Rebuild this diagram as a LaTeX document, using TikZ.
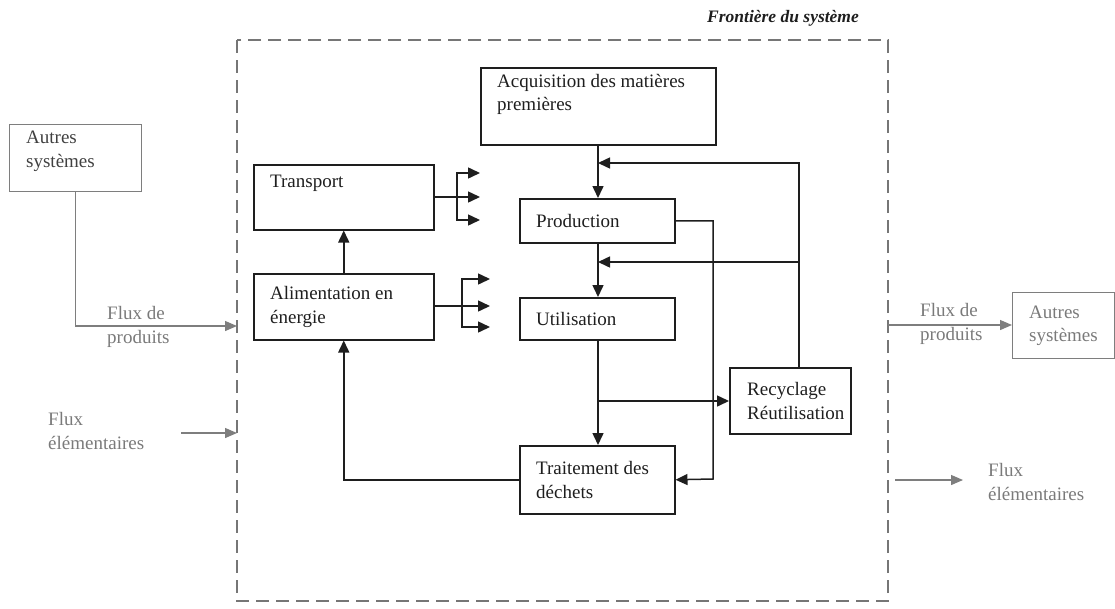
\documentclass[tikz,border=0pt]{standalone}
\usepackage{fontspec}
\setmainfont{Liberation Serif}
\usetikzlibrary{arrows.meta}
\definecolor{ink}{HTML}{1E1E1E}
\definecolor{gline}{HTML}{7E7E7E}
\definecolor{gtext}{HTML}{7A7A7A}
\definecolor{bnd}{HTML}{767676}
\begin{document}
\begin{tikzpicture}[x=1pt,y=-1pt,
  every node/.style={font=\fontsize{19}{23.5}\selectfont},
  boxn/.style={draw=ink, line width=1.5pt, anchor=north west, inner sep=0pt},
  gboxn/.style={draw=gline, line width=1.2pt, anchor=north west, inner sep=0pt},
  txt/.style={anchor=west, inner xsep=17pt, inner ysep=0pt, align=left, text=ink},
  gtxt/.style={anchor=west, inner sep=0pt, align=left, text=gtext},
  arr/.style={draw=ink, line width=1.5pt, -{Triangle[length=12pt,width=11pt]}},
  ln/.style={draw=ink, line width=1.5pt},
  garr/.style={draw=gline, line width=1.3pt, -{Triangle[length=12pt,width=10pt]}},
  bound/.style={draw=bnd, line width=2pt, dash pattern=on 13pt off 7pt}
]
\useasboundingbox (0,0) rectangle (1115,608);

% system boundary
\draw[bound] (237,40) rectangle (888,601);
\node[font=\fontsize{17.5}{20}\selectfont\bfseries\itshape, text=ink] (ftitle) at (783,18) {Frontière du système};

% inner boxes
\node[boxn, minimum width=235pt, minimum height=77pt,
  label={[txt, anchor=north west, yshift=-7pt]north west:{Acquisition des matières\\premières}}] (acq) at (480,67) {};
\node[boxn, minimum width=180pt, minimum height=65pt,
  label={[txt, anchor=north west, yshift=-11pt]north west:{Transport}}] (tr) at (253,164) {};
\node[boxn, minimum width=180pt, minimum height=66pt,
  label={[txt]west:{Alimentation en\\énergie}}] (alim) at (253,273) {};
\node[boxn, minimum width=155pt, minimum height=44pt,
  label={[txt]west:{Production}}] (prod) at (519,198) {};
\node[boxn, minimum width=155pt, minimum height=42pt,
  label={[txt]west:{Utilisation}}] (util) at (519,297) {};
\node[boxn, minimum width=155pt, minimum height=68pt,
  label={[txt]west:{Traitement des\\déchets}}] (trt) at (519,445) {};
\node[boxn, minimum width=121pt, minimum height=66pt,
  label={[txt, inner xsep=0pt, xshift=18pt]west:{Recyclage\\Réutilisation}}] (rec) at (729,367) {};

% outside boxes
\node[gboxn, minimum width=132pt, minimum height=67pt,
  label={[txt, anchor=north west, yshift=-7pt, text=black!75]north west:{Autres\\systèmes}}] (aut1) at (9,124) {};
\node[gboxn, minimum width=102pt, minimum height=66pt,
  label={[txt, text=gtext]west:{Autres\\systèmes}}] (aut2) at (1012,292) {};

% outside labels
\node[gtxt] (lp1) at (107,327) {Flux de\\produits};
\node[gtxt] (le1) at (48,431) {Flux\\élémentaires};
\node[gtxt] (lp2) at (920,324) {Flux de\\produits};
\node[gtxt] (le2) at (988,482) {Flux\\élémentaires};

% coordinates
\coordinate (bin1) at (237,326);
\coordinate (ein1s) at (181,433);
\coordinate (ein1) at (237,433);
\coordinate (bout1) at (888,325);
\coordinate (eout1) at (895,480);
\coordinate (eout2) at (963,480);
\coordinate (fb1) at (598,163);
\coordinate (fb2) at (598,262);
\coordinate (rtop) at (799,367);
\coordinate (rmid) at (799,262);
\coordinate (pdown) at (713,479);
\coordinate (f1) at (457,197);
\coordinate (t1) at (480,173);
\coordinate (t2) at (480,197);
\coordinate (t3) at (480,220);
\coordinate (f2) at (462,306);
\coordinate (a1) at (490,279);
\coordinate (a2) at (490,306);
\coordinate (a3) at (490,327);
\coordinate (ubr) at (598,401);

% outside flows
\draw[garr] (aut1.south) |- (bin1);
\draw[garr] (ein1s) -- (ein1);
\draw[garr] (bout1) -- (aut2.west |- bout1);
\draw[garr] (eout1) -- (eout2);

% main chain
\draw[arr] (acq.south -| fb1) -- (prod.north -| fb1);
\draw[arr] (prod.south -| fb2) -- (util.north -| fb2);
\draw[arr] (util.south -| ubr) -- (trt.north -| ubr);
\draw[arr] (ubr) -- (rec.west |- ubr);
\draw[arr] (rtop) |- (fb1);
\draw[arr] (rmid) -- (fb2);
\draw[arr] (prod.east) -| (pdown) -- (trt.east);
\draw[arr] (trt.west) -| (alim.south);
\draw[arr] (alim.north) -- (tr.south);

% forks
\draw[ln] (tr.east |- f1) -- (f1);
\draw[arr] (f1) |- (t1);
\draw[arr] (f1) -- (t2);
\draw[arr] (f1) |- (t3);
\draw[ln] (alim.east |- f2) -- (f2);
\draw[arr] (f2) |- (a1);
\draw[arr] (f2) -- (a2);
\draw[arr] (f2) |- (a3);
\end{tikzpicture}
\end{document}
